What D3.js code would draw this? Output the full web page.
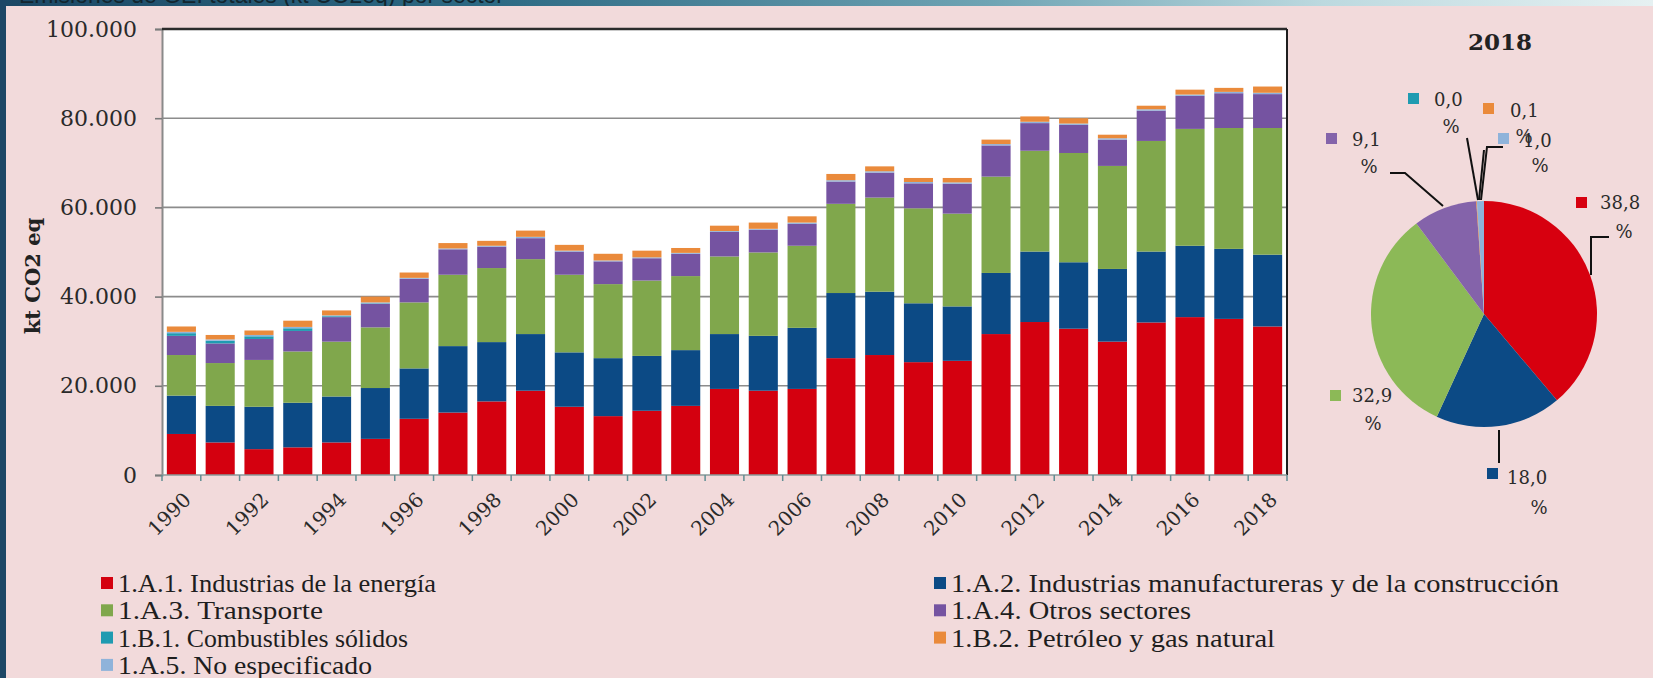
<!DOCTYPE html>
<html><head><meta charset="utf-8">
<script src="https://cdn.jsdelivr.net/npm/d3@7"></script>
<style>html,body{margin:0;padding:0;background:#f2dadb;}svg{display:block;}</style>
</head><body>
<svg id="chart" width="1653" height="678"></svg>
<script>
// ---------- DATA ----------
const years = d3.range(1990, 2019);
const yTicks = [0, 20000, 40000, 60000, 80000, 100000];
const seriesNames = [
  "1.A.1. Industrias de la energía",
  "1.A.2. Industrias manufactureras y de la construcción",
  "1.A.3. Transporte",
  "1.A.4. Otros sectores",
  "1.B.1. Combustibles sólidos",
  "1.A.5. No especificado",
  "1.B.2. Petróleo y gas natural"
];
const energia = [9200,7300,5800,6200,7300,8100,12600,14000,16500,18900,15300,13200,14400,15500,19300,18900,19300,26200,26900,25300,25600,31600,34300,32800,29900,34200,35400,35000,33300];
const manufactureras = [8600,8200,9500,10000,10300,11400,11300,14900,13300,12700,12200,13000,12300,12500,12300,12300,13700,14600,14200,13200,12200,13700,15800,14900,16300,15900,16000,15700,16100];
const transporte = [9100,9600,10500,11500,12300,13600,14800,16000,16600,16800,17400,16600,16900,16600,17400,18700,18400,20000,21100,21300,20800,21600,22600,24500,23100,24800,26200,27100,28400];
const otros = [4300,4400,4700,4600,5500,5300,5300,5700,4800,4700,5200,5100,5000,5000,5500,5100,4900,5000,5600,5600,6700,7000,6200,6300,5900,6800,7400,7800,7600];
const solidos = [600,600,600,600,200,100,0,0,0,0,0,0,0,0,0,0,0,0,0,0,0,0,0,0,0,0,0,0,0];
const noEspecificado = [300,300,300,300,200,200,200,200,200,300,200,200,200,200,200,200,300,300,300,300,300,300,300,300,300,300,300,300,300];
const petroleo = [1200,1000,1000,1400,1100,1300,1200,1200,1100,1400,1300,1500,1500,1100,1200,1400,1400,1400,1100,900,1000,1000,1200,1200,800,800,1100,900,1400];
// pie 2018 (%), clockwise from top
const pieNames = ["1.A.1","1.A.2","1.A.3","1.A.4","1.B.1","1.B.2","1.A.5"];
const pieShares = [38.8, 18.0, 32.9, 9.1, 0.0, 0.1, 1.0];
const pieYear = "2018";
const bannerTitle = "Emisiones de GEI totales (kt CO2eq) por sector";
const yTitle = "kt CO2 eq";

// ---------- STYLE ----------
const colors = {
  "1.A.1":"#d4000f","1.A.2":"#0c4a85","1.A.3":"#80a74c","1.A.4":"#7553a1",
  "1.B.1":"#1f9bb1","1.A.5":"#8fb3da","1.B.2":"#ea8a3b"
};
const keys = ["1.A.1","1.A.2","1.A.3","1.A.4","1.B.1","1.A.5","1.B.2"];
const serif = "'DejaVu Serif', serif";
const serifN = "'Liberation Serif', serif";

const svg = d3.select("#chart");
const W = 1653, H = 678;

// banner
const defs = svg.append("defs");
const lg = defs.append("linearGradient").attr("id","ban").attr("x1","0").attr("x2","1");
[["0%","#1c4865"],["30%","#2d6a84"],["60%","#6fa4b4"],["80%","#bcd9df"],["100%","#e6f1f2"]]
  .forEach(s=>lg.append("stop").attr("offset",s[0]).attr("stop-color",s[1]));
svg.append("rect").attr("x",0).attr("y",0).attr("width",W).attr("height",H).attr("fill","url(#ban)");
svg.append("text").attr("x",19).attr("y",3).attr("font-family","'Liberation Sans', sans-serif")
  .attr("font-size",24).attr("fill","#13262f").attr("textLength",485).attr("lengthAdjust","spacingAndGlyphs")
  .text(bannerTitle);
svg.append("rect").attr("x",6).attr("y",6).attr("width",W-6).attr("height",H-6).attr("fill","#f2dadb");
svg.append("rect").attr("x",0).attr("y",0).attr("width",6).attr("height",H).attr("fill","#1d4766");

// ---------- BAR CHART ----------
const px0 = 162, px1 = 1287, py0 = 29, py1 = 475;
const x = d3.scaleBand().domain(years).range([px0, px1]).paddingInner(0.25).paddingOuter(0.125);
const y = d3.scaleLinear().domain([0, 100000]).range([py1, py0]);

svg.append("rect").attr("x",px0).attr("y",py0).attr("width",px1-px0).attr("height",py1-py0).attr("fill","#ffffff");

// gridlines
svg.append("g").selectAll("line").data(yTicks.filter(v=>v>0 && v<100000)).join("line")
  .attr("x1",px0).attr("x2",px1).attr("y1",d=>y(d)).attr("y2",d=>y(d))
  .attr("stroke","#8c8c8c").attr("stroke-width",1.6);

// stack
const rows = years.map((yr,i)=>({year:yr,"1.A.1":energia[i],"1.A.2":manufactureras[i],"1.A.3":transporte[i],
  "1.A.4":otros[i],"1.B.1":solidos[i],"1.A.5":noEspecificado[i],"1.B.2":petroleo[i]}));
const stacked = d3.stack().keys(keys)(rows);
svg.append("g").selectAll("g").data(stacked).join("g").attr("fill",d=>colors[d.key])
  .selectAll("rect").data(d=>d).join("rect")
  .attr("x",d=>x(d.data.year)).attr("width",x.bandwidth())
  .attr("y",d=>y(d[1])).attr("height",d=>Math.max(0,y(d[0])-y(d[1])));

// y axis
const yAxis = d3.axisLeft(y).tickValues(yTicks).tickSize(7).tickPadding(18)
  .tickFormat(d=>d3.format(",")(d).replace(/,/g,"."));
const gy = svg.append("g").attr("transform",`translate(${px0},0)`).call(yAxis);
gy.select(".domain").attr("stroke","#8a8a8a").attr("stroke-width",2);
gy.selectAll(".tick line").attr("stroke","#7a7a7a").attr("stroke-width",1.6);
gy.selectAll(".tick text").attr("font-family",serif).attr("font-size",22).attr("fill","#2a2a2a");

// top & right border
svg.append("line").attr("x1",px0).attr("x2",px1).attr("y1",y(100000)).attr("y2",y(100000))
  .attr("stroke","#2b2b2b").attr("stroke-width",2.5);
svg.append("line").attr("x1",px1).attr("x2",px1).attr("y1",py0).attr("y2",py1)
  .attr("stroke","#1e1e1e").attr("stroke-width",2);

// x axis line & ticks at category boundaries
svg.append("line").attr("x1",px0).attr("x2",px1).attr("y1",py1).attr("y2",py1)
  .attr("stroke","#8a9a9a").attr("stroke-width",1.5);
const step = x.step();
const boundaries = years.map(yr=>x(yr) - x.paddingInner()*step/2).concat([px1]);
svg.append("g").selectAll("line").data(boundaries).join("line")
  .attr("x1",d=>d).attr("x2",d=>d).attr("y1",py1).attr("y2",py1+6)
  .attr("stroke","#5f8e93").attr("stroke-width",1.5);

// x labels
svg.append("g").selectAll("text").data(years.filter(yr=>(yr-1990)%2===0)).join("text")
  .attr("transform",d=>`translate(${x(d)+x.bandwidth()/2+1},${py1+16}) rotate(-45)`)
  .attr("text-anchor","end").attr("dy","0.7em")
  .attr("font-family",serif).attr("font-size",20).attr("fill","#2a2a2a").text(d=>d);

// y title
svg.append("text").attr("transform","translate(40,276) rotate(-90)").attr("text-anchor","middle")
  .attr("font-family",serif).attr("font-weight","bold").attr("font-size",21).attr("fill","#222")
  .text(yTitle);

// ---------- LEGEND ----------
const legendItems = [
  {k:"1.A.1",n:seriesNames[0],col:0,row:0,w:318},{k:"1.A.2",n:seriesNames[1],col:1,row:0,w:608},
  {k:"1.A.3",n:seriesNames[2],col:0,row:1,w:205},{k:"1.A.4",n:seriesNames[3],col:1,row:1,w:240},
  {k:"1.B.1",n:seriesNames[4],col:0,row:2,w:290},{k:"1.B.2",n:seriesNames[6],col:1,row:2,w:324},
  {k:"1.A.5",n:seriesNames[5],col:0,row:3,w:254}
];
const lgX = [101, 934], lgY0 = 583, lgDy = 27.3;
const lgG = svg.append("g").selectAll("g").data(legendItems).join("g")
  .attr("transform",d=>`translate(${lgX[d.col]},${lgY0+d.row*lgDy})`);
lgG.append("rect").attr("x",0).attr("y",-6).attr("width",12).attr("height",12).attr("fill",d=>colors[d.k]);
lgG.append("text").attr("x",17).attr("y",0).attr("dy","0.35em").attr("font-family",serifN)
  .attr("font-size",26).attr("fill","#1e1e1e")
  .attr("textLength",d=>d.w).attr("lengthAdjust","spacingAndGlyphs").text(d=>d.n);

// ---------- PIE ----------
const cx = 1484, cy = 314, R = 113;
const pieData = pieNames.map((k,i)=>({k, v:pieShares[i]}));
const arcs = d3.pie().sort(null).value(d=>d.v)(pieData);
const arc = d3.arc().innerRadius(0).outerRadius(R);
const pieColors = Object.assign({}, colors, {"1.A.3":"#8cb957","1.A.4":"#8463aa","1.A.1":"#d7000f"});
svg.append("g").attr("transform",`translate(${cx},${cy})`).selectAll("path").data(arcs).join("path")
  .attr("d",arc).attr("fill",d=>pieColors[d.data.k]);

svg.append("text").attr("x",1500).attr("y",50).attr("text-anchor","middle")
  .attr("font-family",serif).attr("font-weight","bold").attr("font-size",23).attr("fill","#222").text(pieYear);

// leader lines
const leaders = [
  [[1591,275],[1591,237],[1609,237]],
  [[1499,430],[1499,463]],
  [[1443,206],[1405,173],[1390,173]],
  [[1478,200],[1467,138]],
  [[1479,200],[1484,150]],
  [[1481,200],[1487,147],[1503,147]]
];
svg.append("g").selectAll("path").data(leaders).join("path")
  .attr("d",d=>d3.line()(d)).attr("fill","none").attr("stroke","#111").attr("stroke-width",2);

// pie labels: square pos, number pos, percent pos
const fmt = v => d3.format(".1f")(v).replace(".",",");
const pieLabelPos = {
  "1.A.1":{sq:[1576,197],num:[1600,209],pct:[1624,238]},
  "1.A.2":{sq:[1487,468],num:[1507,484],pct:[1539,514]},
  "1.A.3":{sq:[1330,390],num:[1352,402],pct:[1373,430]},
  "1.A.4":{sq:[1326,133],num:[1352,146],pct:[1369,173]},
  "1.B.1":{sq:[1408,93],num:[1434,106],pct:[1451,133]},
  "1.B.2":{sq:[1483,103],num:[1510,117],pct:[1524,143]},
  "1.A.5":{sq:[1498,133],num:[1523,147],pct:[1540,172]}
};
const pl = svg.append("g").selectAll("g").data(pieData).join("g");
pl.append("rect").attr("x",d=>pieLabelPos[d.k].sq[0]).attr("y",d=>pieLabelPos[d.k].sq[1])
  .attr("width",11).attr("height",11).attr("fill",d=>pieColors[d.k]);
pl.append("text").attr("x",d=>pieLabelPos[d.k].num[0]).attr("y",d=>pieLabelPos[d.k].num[1])
  .attr("font-family",serif).attr("font-size",18).attr("fill","#2a2a2a").text(d=>fmt(d.v));
pl.append("text").attr("x",d=>pieLabelPos[d.k].pct[0]).attr("y",d=>pieLabelPos[d.k].pct[1])
  .attr("text-anchor","middle").attr("font-family",serif).attr("font-size",18).attr("fill","#2a2a2a").text("%");
</script>
</body></html>
